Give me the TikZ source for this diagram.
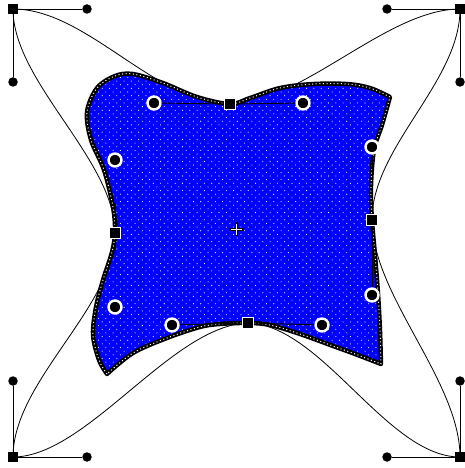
\documentclass[tikz,border=0pt]{standalone}
\usepackage{xcolor}
\usepackage{tikz}
\usetikzlibrary{backgrounds,patterns.meta}

\begin{document}
\begin{tikzpicture}[x=1pt,y=-1pt,
		sqpt/.style={rectangle,fill=black,minimum size=9.5pt,inner sep=0pt},
		hpt/.style={circle,fill=black,minimum size=9.5pt,inner sep=0pt},
		msq/.style={rectangle,fill=black,draw=white,line width=1.6pt,minimum size=11pt,inner sep=0pt},
		mpt/.style={circle,fill=black,draw=white,line width=2.4pt,minimum size=13pt,inner sep=0pt},
		hline/.style={line width=0.9pt},
		outline/.style={line width=0.8pt},
		blob/.style={draw=black,line width=4.4pt,line join=round,
			preaction={fill=blue},
			preaction={pattern={Dots[distance=7.3pt,radius=0.55pt]},pattern color=white},
			preaction={pattern={Dots[distance=7.3pt,radius=0.55pt,xshift=3.65pt,yshift=3.65pt]},pattern color=white},
			postaction={draw=white,line width=1pt,dash pattern=on 1pt off 2.6pt}}]
			
			\useasboundingbox (0,0) rectangle (464,468);
			
			% corner anchors and their handles
			\node[sqpt] (a) at (13,9) {};
			\node[hpt] (ar) at (87,9) {};
			\node[hpt] (ad) at (13,82) {};
			\node[sqpt] (b) at (460,9) {};
			\node[hpt] (bl) at (387,9) {};
			\node[hpt] (bd) at (460,82) {};
			\node[sqpt] (c) at (460,457) {};
			\node[hpt] (cl) at (387,457) {};
			\node[hpt] (cu) at (460,381) {};
			\node[sqpt] (d) at (13,457) {};
			\node[hpt] (dr) at (87,457) {};
			\node[hpt] (du) at (13,381) {};
			
			% middle anchors and their handles
			\node[msq] (t) at (230,104) {};
			\node[mpt] (tl) at (154,103) {};
			\node[mpt] (tr) at (303,103) {};
			\node[msq] (r) at (372,220) {};
			\node[mpt] (ru) at (372,147) {};
			\node[mpt] (rd) at (372,295) {};
			\node[msq] (m) at (248,323) {};
			\node[mpt] (ml) at (172,325) {};
			\node[mpt] (mr) at (322,325) {};
			\node[msq] (l) at (115,233) {};
			\node[mpt] (lu) at (115,160) {};
			\node[mpt] (ld) at (115,307) {};
			
			\begin{scope}[on background layer]
				\draw[outline] (a.center) .. controls (ar.center) and (tl.center) .. (t.center)
					.. controls (tr.center) and (bl.center) .. (b.center)
					.. controls (bd.center) and (ru.center) .. (r.center)
					.. controls (rd.center) and (cu.center) .. (c.center)
					.. controls (cl.center) and (mr.center) .. (m.center)
					.. controls (ml.center) and (dr.center) .. (d.center)
					.. controls (du.center) and (ld.center) .. (l.center)
					.. controls (lu.center) and (ad.center) .. (a.center);
				
				\draw[blob] plot[smooth,tension=0.55] coordinates {(107,374) (99,360) (93,335) (96,307) (103,280) (112,252) (115,232) (113,207) (104,170) (91,140) (87,112) (97,88) (115,76) (133,74) (163,83) (197,97) (230,104) (250,98) (280,88) (313,84) (347,84) (370,88) (390,97)}
					-- plot[smooth,tension=0.55] coordinates {(390,97) (382,125) (374,150) (371,187) (372,220) (375,255) (378,293) (380,330) (381,364)}
					-- plot[smooth,tension=0.55] coordinates {(381,364) (355,354) (333,346) (300,334) (270,325) (248,323) (220,324) (200,327) (167,338) (133,353) (107,374)}
					-- cycle;
			\end{scope}
			
			\draw[hline] (ar) -- (a) -- (ad);
			\draw[hline] (bl) -- (b) -- (bd);
			\draw[hline] (cl) -- (c) -- (cu);
			\draw[hline] (dr) -- (d) -- (du);
			\draw[hline] (tl) -- (t) -- (tr);
			\draw[hline] (ru) -- (r) -- (rd);
			\draw[hline] (ml) -- (m) -- (mr);
			\draw[hline] (lu) -- (l) -- (ld);
			
			% centre mark
			\draw[line width=3pt] (229,229) -- (243,229) (236,222) -- (236,236);
			\draw[white,line width=0.9pt] (230.5,229) -- (241.5,229) (236,223.5) -- (236,234.5);
			
		\end{tikzpicture}
\end{document}
